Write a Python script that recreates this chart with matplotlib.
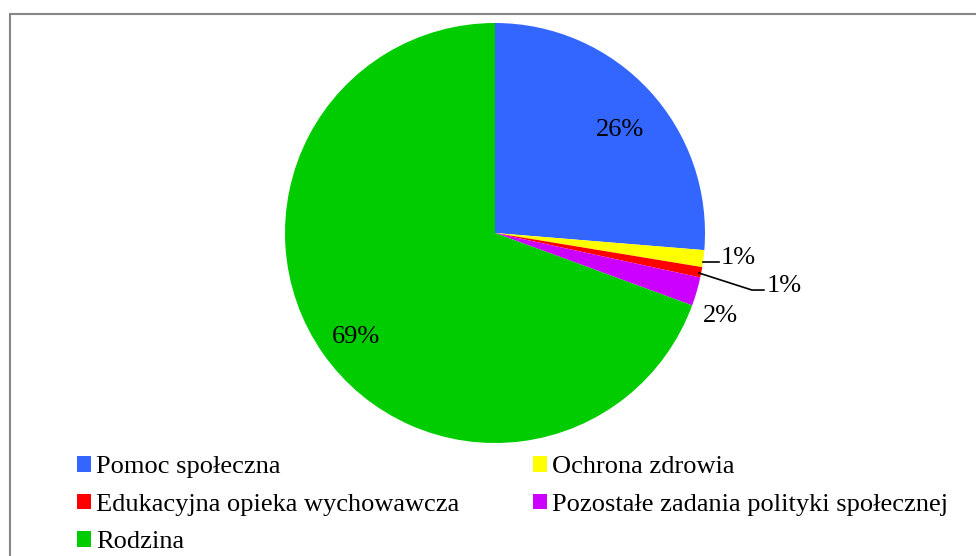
import numpy as np
import matplotlib
matplotlib.use("Agg")
import matplotlib.pyplot as plt
from matplotlib.patches import Rectangle, Patch

categories = ["Pomoc społeczna", "Ochrona zdrowia", "Edukacyjna opieka wychowawcza",
              "Pozostałe zadania polityki społecznej", "Rodzina"]
values = [26.3, 1.3, 0.8, 2.2, 69.4]
labels = ["26%", "1%", "1%", "2%", "69%"]
colors = ["#3366FF", "#FFFF00", "#FF0000", "#CC00FF", "#00CC00"]

plt.rcParams['font.family'] = ['Liberation Serif', 'DejaVu Serif']
FS = 19

W, H = 976, 556
fig = plt.figure(figsize=(W / 100, H / 100), dpi=100)

# border
fig.patches.append(Rectangle((9.5 / W, -0.05), 1.1, (H - 14.5) / H + 0.05,
                             transform=fig.transFigure, fill=False,
                             edgecolor="#878787", linewidth=1.5))

cx, cy, r = 495, 233, 210
ax = fig.add_axes([(cx - r) / W, (H - cy - r) / H, 2 * r / W, 2 * r / H])
wedges, _ = ax.pie(values, colors=colors, startangle=90, counterclock=False,
                   radius=1, wedgeprops=dict(linewidth=0))
ax.set_xlim(-1, 1)
ax.set_ylim(-1, 1)
ax.axis("off")

def pol(a, rr):
    t = np.deg2rad(a)
    return rr * np.cos(t), rr * np.sin(t)

mids = [(w.theta1 + w.theta2) / 2 for w in wedges]

# big labels inside
for i, d, da in [(0, 0.78, -1.5), (4, 0.82, 0.0)]:
    x, y = pol(mids[i] + da, d)
    ax.text(x + 0.01, y - 0.025, labels[i], ha="center", va="center", fontsize=FS)

# yellow: short leader
x0, y0 = pol(mids[1] - 0.9, 1.0)
ax.plot([x0, x0 + 0.075], [y0, y0], color="black", lw=1.2, clip_on=False)
ax.text(x0 + 0.085, y0 + 0.02, labels[1], ha="left", va="center", fontsize=FS)

# red: angled leader
x0, y0 = pol(mids[2] - 0.3, 0.99)
x1, y1 = x0 + 0.252, y0 - 0.081
ax.plot([x0, x1, x1 + 0.057], [y0, y1, y1], color="black", lw=1.2, clip_on=False)
ax.text(x1 + 0.07, y1 + 0.02, labels[2], ha="left", va="center", fontsize=FS)

# magenta
x, y = pol(mids[3] - 3.6, 1.14)
ax.text(x, y - 0.01, labels[3], ha="center", va="center", fontsize=FS)

order = [0, 2, 4, 1, 3]
handles = [Patch(facecolor=colors[i], edgecolor="none", label=categories[i]) for i in order]
fig.legend(handles=handles, ncol=2, loc="upper left",
           bbox_to_anchor=(72 / W, (H - 451) / H), frameon=False, fontsize=FS,
           handlelength=0.53, handleheight=0.53, handletextpad=0.19,
           columnspacing=2.8, labelspacing=0.58, borderaxespad=0, borderpad=0.2)

fig.savefig("out.png", dpi=100)
